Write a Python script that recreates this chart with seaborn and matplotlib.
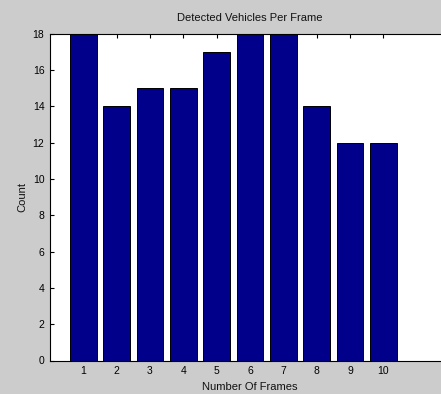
import matplotlib
matplotlib.use("Agg")
import matplotlib.pyplot as plt
import seaborn as sns
import pandas as pd

frames = [1, 2, 3, 4, 5, 6, 7, 8, 9, 10]
counts = [18, 14, 15, 15, 17, 18, 18, 14, 12, 12]
y_ticks = [0, 2, 4, 6, 8, 10, 12, 14, 16, 18]

sns.set_style("white")
plt.rcParams['font.family'] = ['Liberation Sans', 'DejaVu Sans']

df = pd.DataFrame({"frame": frames, "count": counts})

fig = plt.figure(figsize=(4.41, 3.94), dpi=100, facecolor="#cccccc")
ax = fig.add_axes([50/441, 33.5/394, 400/441, 327/394])
ax.set_facecolor("white")

sns.barplot(data=df, x="frame", y="count", native_scale=True, width=0.8,
            color="#00008b", saturation=1, edgecolor="black", linewidth=0.7, ax=ax)

ax.set_xlim(0, 12)
ax.set_ylim(0, 18)
ax.set_xticks(frames)
ax.set_yticks(y_ticks)
ax.set_axisbelow(True)
ax.tick_params(direction="in", length=3, width=0.8, labelsize=7.5,
               top=True, bottom=True, left=True, right=False, colors="black",
               pad=4)
for s in ["left", "bottom", "top"]:
    ax.spines[s].set_visible(True)
    ax.spines[s].set_color("black")
    ax.spines[s].set_linewidth(0.8)
ax.spines["right"].set_visible(False)

ax.set_title("Detected Vehicles Per Frame", fontsize=8, pad=9, color="#111111")
ax.set_xlabel("Number Of Frames", fontsize=8, labelpad=4, color="#111111")
ax.set_ylabel("Count", fontsize=8, labelpad=4, color="#111111")

fig.savefig("out.png", dpi=100, facecolor=fig.get_facecolor())
